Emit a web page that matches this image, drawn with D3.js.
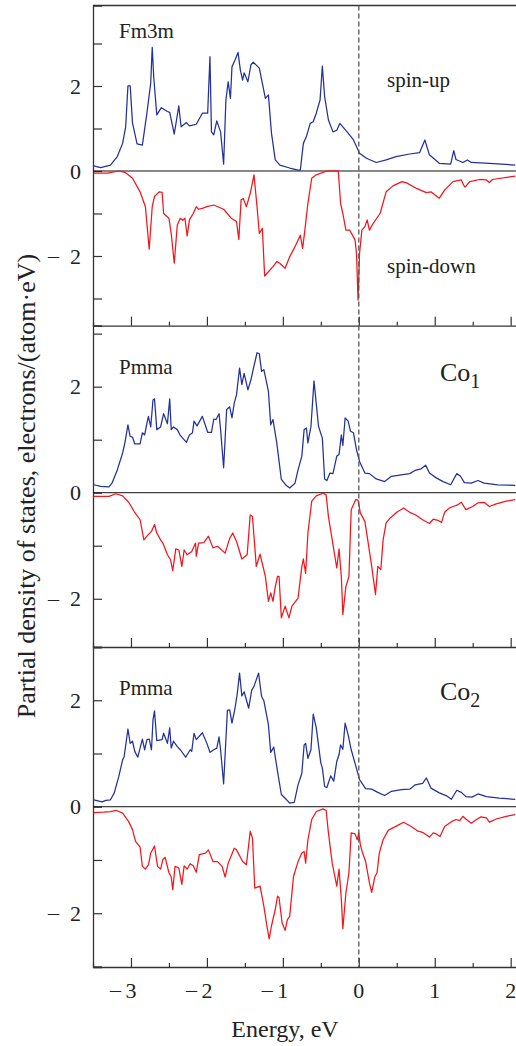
<!DOCTYPE html>
<html><head><meta charset="utf-8">
<script src="https://cdn.jsdelivr.net/npm/d3@7"></script>
<style>
body{margin:0;background:#fff}
svg{display:block}
text{font-family:"Liberation Serif","Times New Roman",serif;fill:#222}
</style>
</head><body>
<svg id="c" width="516" height="1046"></svg>
<script>
// ---- data: [energy (eV), PDOS (electrons/(atom·eV))] ----
const fm3mUp = [[-3.49,0.12],[-3.40,0.08],[-3.27,0.14],[-3.18,0.34],[-3.11,0.65],[-3.07,1.04],[-3.04,2.0],[-3.01,2.0],[-2.98,1.13],[-2.92,0.64],[-2.85,0.61],[-2.79,1.36],[-2.74,2.07],[-2.72,2.91],[-2.70,2.2],[-2.66,1.32],[-2.60,1.49],[-2.52,1.4],[-2.49,1.38],[-2.43,0.87],[-2.37,1.53],[-2.34,1.04],[-2.27,1.14],[-2.23,1.06],[-2.14,1.1],[-2.06,1.36],[-1.99,1.36],[-1.96,2.69],[-1.94,0.92],[-1.91,0.85],[-1.87,1.18],[-1.82,0.92],[-1.78,0.16],[-1.75,1.67],[-1.72,2.1],[-1.69,1.71],[-1.67,2.45],[-1.63,2.61],[-1.59,2.79],[-1.56,2.38],[-1.53,2.14],[-1.51,2.31],[-1.46,2.1],[-1.42,2.5],[-1.39,2.56],[-1.31,2.42],[-1.23,1.71],[-1.19,1.79],[-1.15,0.89],[-1.10,0.26],[-1.04,0.14],[-0.91,0.07],[-0.80,0.02],[-0.77,0.02],[-0.73,0.65],[-0.69,0.81],[-0.64,1.12],[-0.60,1.16],[-0.56,1.36],[-0.51,1.67],[-0.48,2.47],[-0.45,1.75],[-0.40,1.2],[-0.34,0.92],[-0.29,0.96],[-0.25,1.12],[-0.21,1.04],[-0.14,0.89],[-0.07,0.73],[0.01,0.42],[0.10,0.3],[0.23,0.2],[0.36,0.26],[0.49,0.34],[0.67,0.4],[0.80,0.43],[0.87,0.73],[0.93,0.38],[1.06,0.18],[1.21,0.16],[1.25,0.48],[1.28,0.27],[1.37,0.2],[1.43,0.26],[1.48,0.2],[1.72,0.18],[2.06,0.14]];
const fm3mDown = [[-3.49,-0.05],[-3.31,-0.05],[-3.16,0],[-3.07,-0.04],[-2.98,-0.17],[-2.88,-0.49],[-2.81,-0.84],[-2.76,-1.84],[-2.72,-0.84],[-2.69,-0.6],[-2.63,-0.49],[-2.59,-0.5],[-2.57,-1.0],[-2.50,-1.11],[-2.47,-1.47],[-2.43,-2.17],[-2.39,-1.27],[-2.35,-1.11],[-2.32,-1.16],[-2.29,-1.11],[-2.26,-1.53],[-2.23,-1.15],[-2.18,-1.0],[-2.14,-0.84],[-2.11,-0.9],[-2.06,-0.88],[-2.00,-0.84],[-1.91,-0.8],[-1.78,-0.9],[-1.68,-1.11],[-1.61,-1.19],[-1.58,-1.61],[-1.55,-0.68],[-1.52,-0.65],[-1.48,-0.84],[-1.43,-0.53],[-1.38,-0.09],[-1.34,-0.84],[-1.31,-1.47],[-1.27,-1.35],[-1.24,-2.47],[-1.19,-2.37],[-1.13,-2.25],[-1.08,-2.13],[-1.04,-2.17],[-0.97,-2.29],[-0.91,-2.02],[-0.84,-1.78],[-0.77,-1.51],[-0.74,-1.82],[-0.71,-1.39],[-0.67,-0.76],[-0.62,-0.17],[-0.56,-0.09],[-0.42,0],[-0.27,0],[-0.24,-0.76],[-0.21,-1.0],[-0.17,-1.39],[-0.12,-1.39],[-0.05,-1.62],[-0.03,-1.94],[-0.01,-3.04],[0.01,-1.94],[0.04,-1.39],[0.08,-1.31],[0.11,-1.15],[0.14,-1.39],[0.19,-1.23],[0.28,-1.0],[0.36,-0.49],[0.45,-0.35],[0.57,-0.25],[0.63,-0.28],[0.76,-0.41],[0.89,-0.51],[0.95,-0.49],[1.06,-0.64],[1.13,-0.45],[1.24,-0.25],[1.35,-0.21],[1.38,-0.33],[1.40,-0.38],[1.46,-0.25],[1.59,-0.2],[1.68,-0.21],[1.72,-0.27],[1.76,-0.2],[2.06,-0.12]];
const co1Up = [[-3.49,0.15],[-3.40,0.12],[-3.29,0.11],[-3.25,0.18],[-3.18,0.43],[-3.11,0.75],[-3.08,0.94],[-3.04,1.28],[-3.01,1.06],[-2.98,1.05],[-2.95,0.92],[-2.88,0.92],[-2.85,1.13],[-2.82,1.09],[-2.79,1.31],[-2.77,1.44],[-2.74,1.24],[-2.71,1.75],[-2.69,1.77],[-2.66,1.19],[-2.61,1.24],[-2.57,1.49],[-2.52,1.30],[-2.49,1.77],[-2.47,1.19],[-2.44,1.24],[-2.39,1.19],[-2.35,1.08],[-2.27,0.95],[-2.23,1.09],[-2.19,1.13],[-2.17,1.35],[-2.13,1.26],[-2.06,1.44],[-1.99,1.14],[-1.94,1.14],[-1.91,1.39],[-1.88,1.38],[-1.84,1.49],[-1.82,1.19],[-1.78,0.47],[-1.74,1.57],[-1.70,1.62],[-1.67,1.41],[-1.64,1.69],[-1.61,1.85],[-1.57,2.35],[-1.54,2.04],[-1.51,2.25],[-1.46,1.94],[-1.42,2.13],[-1.39,2.33],[-1.34,2.64],[-1.31,2.62],[-1.28,2.29],[-1.25,2.32],[-1.19,1.91],[-1.16,1.28],[-1.13,1.38],[-1.08,0.94],[-1.02,0.25],[-0.95,0.13],[-0.91,0.09],[-0.84,0.18],[-0.80,0.43],[-0.75,0.69],[-0.72,1.19],[-0.69,1.22],[-0.67,0.94],[-0.63,1.25],[-0.59,2.11],[-0.53,1.25],[-0.48,1.03],[-0.45,0.26],[-0.42,0.23],[-0.38,0.37],[-0.34,0.36],[-0.29,0.69],[-0.26,0.72],[-0.23,1.09],[-0.21,0.89],[-0.18,1.41],[-0.14,1.35],[-0.11,1.16],[-0.07,1.13],[-0.03,0.81],[0.01,0.59],[0.08,0.37],[0.14,0.36],[0.23,0.26],[0.34,0.21],[0.43,0.31],[0.58,0.34],[0.67,0.36],[0.74,0.42],[0.82,0.45],[0.88,0.52],[0.93,0.37],[1.02,0.28],[1.11,0.21],[1.21,0.15],[1.29,0.36],[1.34,0.31],[1.39,0.19],[1.48,0.18],[1.57,0.23],[1.65,0.18],[1.83,0.15],[2.06,0.14]];
const co1Down = [[-3.49,-0.07],[-3.29,-0.07],[-3.20,-0.02],[-3.11,-0.06],[-3.03,-0.18],[-2.96,-0.35],[-2.88,-0.51],[-2.83,-0.89],[-2.79,-0.82],[-2.73,-0.73],[-2.69,-0.60],[-2.66,-0.76],[-2.61,-0.89],[-2.58,-0.95],[-2.52,-1.17],[-2.48,-1.26],[-2.45,-1.47],[-2.41,-1.06],[-2.37,-1.08],[-2.33,-1.39],[-2.30,-1.08],[-2.26,-1.17],[-2.20,-1.11],[-2.15,-0.95],[-2.14,-1.20],[-2.11,-0.95],[-2.04,-0.94],[-1.98,-0.82],[-1.92,-1.04],[-1.86,-1.01],[-1.76,-1.14],[-1.70,-0.86],[-1.66,-0.76],[-1.61,-0.92],[-1.54,-1.25],[-1.47,-1.17],[-1.43,-0.42],[-1.40,-0.45],[-1.35,-1.39],[-1.30,-1.16],[-1.23,-1.58],[-1.19,-2.05],[-1.16,-1.89],[-1.13,-2.05],[-1.10,-1.77],[-1.07,-1.58],[-1.05,-1.58],[-1.02,-2.36],[-0.97,-2.14],[-0.92,-2.36],[-0.88,-2.14],[-0.80,-1.99],[-0.75,-1.39],[-0.73,-1.25],[-0.70,-1.52],[-0.67,-0.76],[-0.62,-0.16],[-0.56,-0.06],[-0.47,-0.01],[-0.43,-0.04],[-0.40,-0.45],[-0.35,-0.89],[-0.29,-1.42],[-0.26,-1.06],[-0.23,-1.58],[-0.21,-2.30],[-0.17,-1.77],[-0.13,-1.58],[-0.10,-0.32],[-0.04,-0.13],[-0.01,-0.14],[0.02,-0.38],[0.08,-0.54],[0.11,-0.82],[0.17,-1.39],[0.22,-1.92],[0.25,-1.39],[0.29,-1.45],[0.32,-0.89],[0.36,-0.57],[0.41,-0.48],[0.50,-0.37],[0.59,-0.29],[0.67,-0.37],[0.75,-0.42],[0.84,-0.51],[0.93,-0.58],[0.98,-0.50],[1.04,-0.52],[1.09,-0.56],[1.13,-0.37],[1.19,-0.29],[1.24,-0.26],[1.30,-0.23],[1.35,-0.18],[1.41,-0.32],[1.50,-0.26],[1.57,-0.19],[1.65,-0.18],[1.72,-0.26],[1.81,-0.21],[1.94,-0.16],[2.06,-0.13]];
const co2Up = [[-3.49,0.13],[-3.38,0.09],[-3.33,0.12],[-3.27,0.13],[-3.22,0.26],[-3.16,0.57],[-3.11,0.88],[-3.09,0.94],[-3.04,1.46],[-3.01,1.19],[-2.98,1.23],[-2.95,1.04],[-2.91,0.93],[-2.85,1.27],[-2.82,1.07],[-2.79,1.26],[-2.76,1.27],[-2.73,1.07],[-2.71,1.63],[-2.69,1.80],[-2.66,1.24],[-2.59,1.26],[-2.57,1.38],[-2.52,1.19],[-2.49,1.48],[-2.47,1.10],[-2.44,1.23],[-2.39,1.13],[-2.35,1.07],[-2.28,0.93],[-2.22,1.07],[-2.20,1.04],[-2.17,1.38],[-2.14,1.26],[-2.06,1.39],[-2.00,1.19],[-1.96,1.02],[-1.91,1.07],[-1.87,1.10],[-1.84,1.31],[-1.82,1.07],[-1.78,0.43],[-1.73,1.81],[-1.70,1.82],[-1.67,1.57],[-1.63,1.85],[-1.60,2.13],[-1.57,2.51],[-1.54,2.08],[-1.51,2.16],[-1.45,1.85],[-1.41,2.19],[-1.38,2.26],[-1.32,2.51],[-1.28,2.07],[-1.25,1.99],[-1.19,1.54],[-1.16,1.02],[-1.12,1.12],[-1.07,0.66],[-1.02,0.23],[-0.95,0.13],[-0.91,0.07],[-0.85,0.08],[-0.80,0.41],[-0.75,0.63],[-0.72,1.16],[-0.70,1.19],[-0.67,0.91],[-0.63,1.07],[-0.60,1.74],[-0.56,1.48],[-0.50,0.82],[-0.48,0.73],[-0.45,0.38],[-0.42,0.36],[-0.37,0.58],[-0.33,0.48],[-0.29,0.85],[-0.26,0.98],[-0.24,1.16],[-0.21,1.08],[-0.18,1.57],[-0.14,1.35],[-0.10,1.07],[-0.05,0.82],[0.01,0.51],[0.09,0.34],[0.17,0.33],[0.25,0.27],[0.34,0.21],[0.43,0.29],[0.56,0.32],[0.67,0.33],[0.74,0.41],[0.84,0.44],[0.89,0.54],[0.95,0.35],[1.06,0.26],[1.15,0.21],[1.22,0.14],[1.29,0.31],[1.35,0.27],[1.41,0.19],[1.49,0.18],[1.57,0.24],[1.68,0.19],[1.85,0.16],[2.06,0.14]];
const co2Down = [[-3.49,-0.11],[-3.36,-0.10],[-3.27,-0.09],[-3.19,-0.07],[-3.11,-0.12],[-3.03,-0.28],[-2.98,-0.43],[-2.94,-0.65],[-2.88,-0.76],[-2.85,-1.12],[-2.81,-1.17],[-2.77,-1.09],[-2.74,-0.87],[-2.69,-0.74],[-2.65,-1.12],[-2.61,-1.17],[-2.58,-0.99],[-2.55,-0.95],[-2.50,-1.24],[-2.47,-1.32],[-2.45,-1.56],[-2.42,-1.12],[-2.37,-1.15],[-2.33,-1.46],[-2.30,-1.11],[-2.26,-1.17],[-2.22,-1.07],[-2.18,-1.11],[-2.14,-1.23],[-2.10,-0.90],[-2.02,-0.87],[-1.98,-0.81],[-1.92,-1.03],[-1.86,-1.03],[-1.80,-1.12],[-1.76,-1.32],[-1.72,-1.06],[-1.64,-0.78],[-1.61,-0.81],[-1.53,-1.03],[-1.48,-1.09],[-1.43,-0.46],[-1.40,-0.59],[-1.37,-1.53],[-1.30,-1.49],[-1.25,-1.87],[-1.21,-2.24],[-1.18,-2.48],[-1.15,-2.24],[-1.10,-1.93],[-1.07,-1.68],[-1.05,-1.71],[-1.01,-2.18],[-0.97,-2.32],[-0.94,-2.12],[-0.91,-2.06],[-0.86,-1.31],[-0.80,-1.03],[-0.75,-0.87],[-0.72,-0.84],[-0.70,-1.06],[-0.67,-0.62],[-0.62,-0.24],[-0.56,-0.09],[-0.47,-0.04],[-0.43,-0.07],[-0.40,-0.49],[-0.35,-1.06],[-0.29,-1.49],[-0.26,-1.17],[-0.23,-1.74],[-0.21,-2.29],[-0.17,-1.62],[-0.13,-1.24],[-0.10,-0.49],[-0.05,-0.51],[-0.02,-0.62],[0.00,-0.49],[0.02,-0.71],[0.05,-0.87],[0.09,-1.03],[0.14,-1.43],[0.17,-1.61],[0.21,-1.32],[0.24,-1.24],[0.27,-0.87],[0.32,-0.62],[0.39,-0.44],[0.50,-0.36],[0.59,-0.29],[0.69,-0.37],[0.78,-0.46],[0.84,-0.48],[0.93,-0.57],[0.98,-0.49],[1.02,-0.51],[1.07,-0.56],[1.13,-0.37],[1.22,-0.28],[1.28,-0.24],[1.33,-0.26],[1.37,-0.18],[1.41,-0.23],[1.48,-0.31],[1.55,-0.24],[1.61,-0.19],[1.68,-0.21],[1.72,-0.29],[1.81,-0.23],[1.94,-0.18],[2.06,-0.15]];

const xMajorTicks = [-3,-2,-1,0,1,2];
const xMinorTicks = [-3.5,-2.5,-1.5,-0.5,0.5,1.5];
const yLabelTicks = [-2,0,2];
const panelNames = ["Fm3m","Pmma","Pmma"];
const siteSubs = ["","1","2"];
const xDomain = [-3.5, 2.07];
const yDomains = [[-3.64,3.894],[-2.91,3.15],[-3.01,3.0]];

// ---- layout ----
const svg = d3.select("#c");
const L = 93, R = 516;
const bands = [[5.5,325.7],[325.7,647],[647,967]];
const x = d3.scaleLinear().domain(xDomain).range([L, R]);
const BLUE = "#23319a", RED = "#f2161c", AX = "#333";
const series = [[fm3mUp,fm3mDown],[co1Up,co1Down],[co2Up,co2Down]];

// top frame line
svg.append("line").attr("x1",L).attr("x2",R).attr("y1",bands[0][0]).attr("y2",bands[0][0])
  .attr("stroke",AX).attr("stroke-width",1.3);

bands.forEach((b,i)=>{
  const y = d3.scaleLinear().domain(yDomains[i]).range([b[1], b[0]]);
  const g = svg.append("g");
  // y ticks (inward)
  const yt = d3.range(Math.ceil(yDomains[i][0]), Math.floor(yDomains[i][1])+1);
  const ya = d3.axisRight(y).tickValues(yt).tickSize(9).tickFormat("");
  g.append("g").attr("transform",`translate(${L},0)`).call(ya)
    .call(s=>{s.select(".domain").attr("stroke",AX).attr("stroke-width",1.3);
              s.selectAll(".tick line").attr("stroke",AX).attr("stroke-width",1.2);});
  // bottom x ticks (inward)
  const xaMin = d3.axisTop(x).tickValues(xMinorTicks).tickSizeInner(4).tickSizeOuter(0).tickFormat("");
  const xaMaj = d3.axisTop(x).tickValues(xMajorTicks).tickSizeInner(9).tickSizeOuter(0).tickFormat("");
  g.append("g").attr("transform",`translate(0,${b[1]})`).call(xaMin)
    .call(s=>{s.select(".domain").attr("stroke",AX).attr("stroke-width",1.3);
              s.selectAll(".tick line").attr("stroke",AX).attr("stroke-width",1.2);});
  g.append("g").attr("transform",`translate(0,${b[1]})`).call(xaMaj)
    .call(s=>{s.select(".domain").remove();
              s.selectAll(".tick line").attr("stroke",AX).attr("stroke-width",1.2);});
  // zero line
  g.append("line").attr("x1",L).attr("x2",R).attr("y1",y(0)).attr("y2",y(0))
    .attr("stroke","#111").attr("stroke-width",1);
  // y tick labels
  yLabelTicks.forEach(v=>{
    g.append("text").attr("x",81).attr("y",y(v)).attr("dy","0.35em")
      .attr("text-anchor","end").attr("font-size",22).text(String(Math.abs(v)));
    if(v<0) g.append("text").attr("x",59).attr("y",y(v)).attr("dy","0.33em")
      .attr("text-anchor","end").attr("font-size",22).text("\u2013");
  });
  // curves
  const line = d3.line().x(d=>x(d[0])).y(d=>y(d[1]));
  g.append("path").datum(series[i][0]).attr("d",line).attr("fill","none")
    .attr("stroke",BLUE).attr("stroke-width",1.25).attr("stroke-linejoin","round");
  g.append("path").datum(series[i][1]).attr("d",line).attr("fill","none")
    .attr("stroke",RED).attr("stroke-width",1.25).attr("stroke-linejoin","round");
  // labels
  g.append("text").attr("x",119).attr("y",b[0]+[32.5,48.5,48][i]).attr("font-size",21).text(panelNames[i]);
  if(siteSubs[i]){
    const t = g.append("text").attr("x",440).attr("y",b[0]+[0,55.5,53][i]).attr("font-size",26);
    t.append("tspan").text("Co");
    t.append("tspan").attr("font-size",20).attr("dy",7).text(siteSubs[i]);
  }
});

// spin labels
svg.append("text").attr("x",387).attr("y",87).attr("font-size",21).text("spin-up");
svg.append("text").attr("x",387).attr("y",273).attr("font-size",21).text("spin-down");

// Fermi level dashed line
svg.append("line").attr("x1",x(0)).attr("x2",x(0)).attr("y1",bands[0][0]).attr("y2",bands[2][1])
  .attr("stroke","#555").attr("stroke-width",1.3).attr("stroke-dasharray","5,3");

// x tick labels
xMajorTicks.forEach(v=>{
  svg.append("text").attr("x",x(v)).attr("y",998).attr("text-anchor","middle")
    .attr("font-size",22).text(String(Math.abs(v)));
  if(v<0) svg.append("text").attr("x",x(v)-10).attr("y",997).attr("text-anchor","end")
    .attr("font-size",22).text("\u2013");
});

// axis titles
svg.append("text").attr("x",285).attr("y",1037).attr("text-anchor","middle")
  .attr("font-size",24).text("Energy, eV");
svg.append("text").attr("transform","translate(35,486) rotate(-90)").attr("text-anchor","middle")
  .attr("font-size",26).text("Partial density of states, electrons/(atom\u00B7eV)");
</script>
</body></html>
